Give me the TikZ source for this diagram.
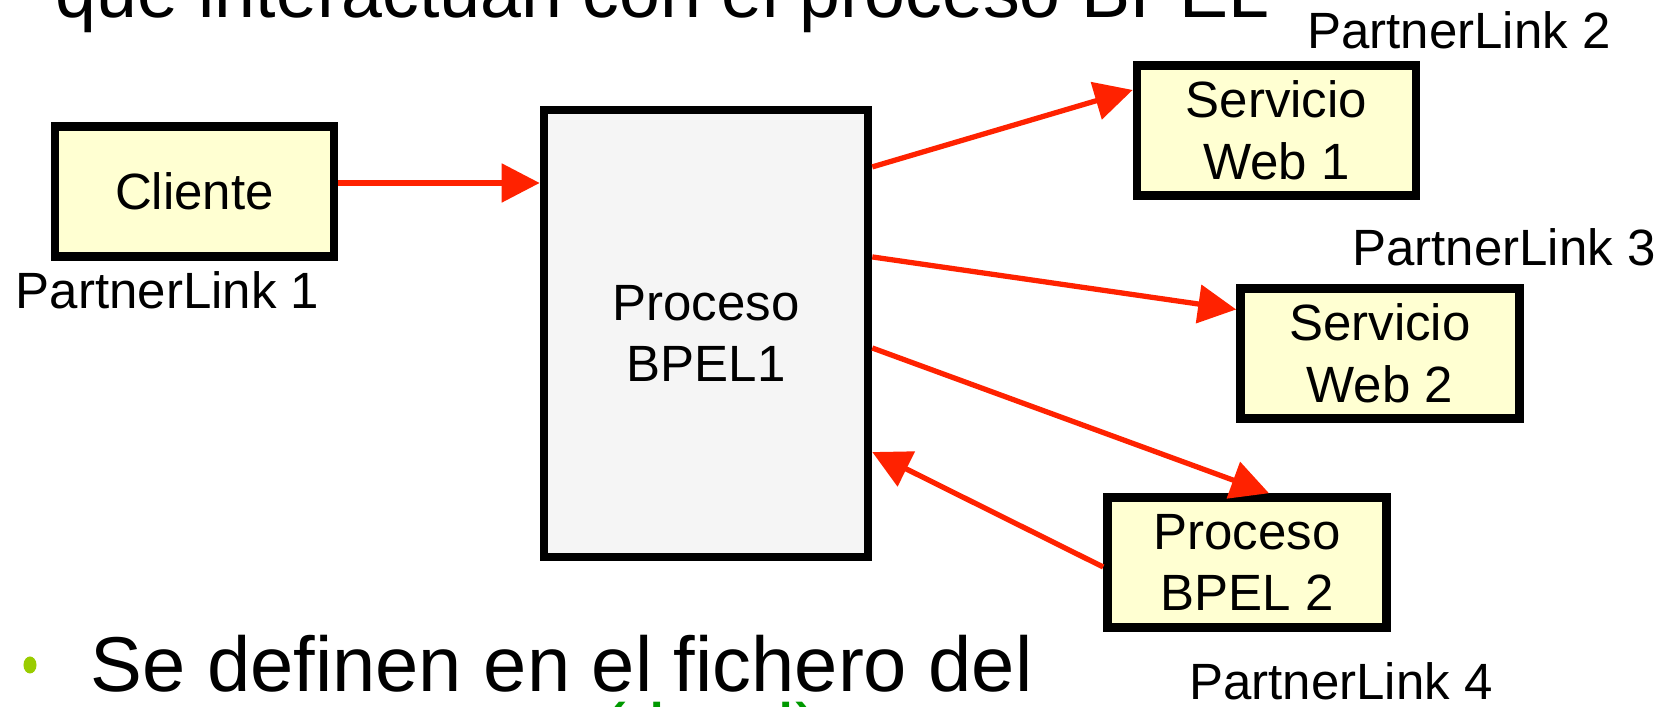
\documentclass[tikz,border=0pt]{standalone}
\usepackage{fontspec}
\setmainfont{Liberation Sans}
\usetikzlibrary{arrows.meta, positioning}
\definecolor{lred}{HTML}{FF2200}
\definecolor{lcream}{HTML}{FFFFD2}
\definecolor{lgray}{HTML}{F5F5F5}
\definecolor{lbullet}{HTML}{99CC00}
\definecolor{lgreen}{HTML}{009900}

\tikzset{
  partner/.style={draw=black, line width=2.4pt, fill=lcream, align=center,
    minimum width=2.79cm, minimum height=1.30cm, inner sep=0pt,
    font=\fontsize{14.5}{17.6}\selectfont},
  plabel/.style={font=\fontsize{14.5}{17.6}\selectfont, inner sep=0pt},
  link/.style={draw=lred, line width=1.5pt, -{Triangle[length=0.38cm, width=0.38cm]}},
  slide/.style={inner sep=0pt},
}

\begin{document}
\begin{tikzpicture}[x=0.01cm, y=-0.01cm]
\useasboundingbox (0,0) rectangle (1668,707);
\clip (0,0) rectangle (1668,707);

% slide text, cut by the frame
\node[slide, anchor=base west, font=\fontsize{20.9}{25}\selectfont] (head) at (55,18) {que interactúan con el proceso BPEL};
\fill[lbullet] (30,665) ellipse [x radius=0.065cm, y radius=0.085cm];
\node[slide, anchor=base west, font=\fontsize{22.1}{26}\selectfont] (body) at (90,692) {Se definen en el fichero del};
\node[slide, anchor=base west, font=\fontsize{22.1}{26}\selectfont, text=lgreen] (ext) at (600,759) {(.bpel)};

% processes and partners
\node[partner] (cli) at (194.5,191.5) {Cliente};
\node[partner, fill=lgray, minimum width=3.24cm, minimum height=4.47cm] (bp1) at (706,333.5) {Proceso\\BPEL1};
\node[partner] (ws1) at (1276.5,130.5) {Servicio\\Web 1};
\node[partner] (ws2) at (1380,353.5) {Servicio\\Web 2};
\node[partner] (bp2) at (1247,562.5) {Proceso\\BPEL 2};

\node[plabel] (pl1) at (167.5,290) {PartnerLink 1};
\node[plabel] (pl2) at (1459,30) {PartnerLink 2};
\node[plabel] (pl3) at (1504,247) {PartnerLink 3};
\node[plabel] (pl4) at (1341,681) {PartnerLink 4};

% links
\draw[link] ([yshift=0.085cm]cli.east) -- ([yshift=0.085cm]cli.east -| bp1.west);
\draw[link] ([yshift=1.665cm]bp1.east) -- ([yshift=0.405cm]ws1.west);
\draw[link] ([yshift=0.765cm]bp1.east) -- ([yshift=0.44cm]ws2.west);
\draw[link] ([yshift=-0.145cm]bp1.east) -- ([xshift=0.22cm]bp2.north);
\draw[link] ([yshift=-0.045cm]bp2.west) -- ([yshift=-1.185cm]bp1.east);
\end{tikzpicture}
\end{document}
